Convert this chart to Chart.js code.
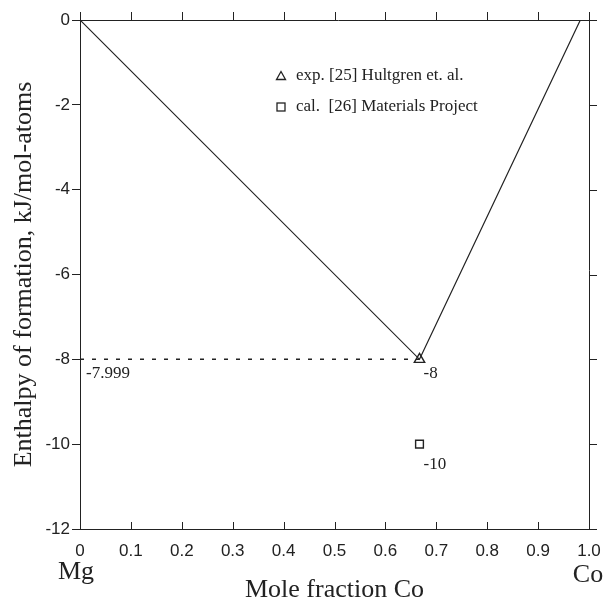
<!DOCTYPE html>
<html>
<head>
<meta charset="utf-8">
<script src="https://cdn.jsdelivr.net/npm/chart.js@4"></script>
<style>
  html, body { margin: 0; padding: 0; background: #fff; }
  #wrap { width: 610px; height: 604px; }
</style>
</head>
<body>
<div id="wrap"><canvas id="enthalpyChart" width="610" height="604"></canvas></div>
<script>
// ---- data ----
const hullX = [0, 0.667, 0.983];
const hullY = [0, -8, 0];
const expX = [0.667];
const expY = [-8];
const calX = [0.667];
const calY = [-10];
const refLineX = [0, 0.667];
const refLineY = [-7.999, -7.999];
const xTicks = [0, 0.1, 0.2, 0.3, 0.4, 0.5, 0.6, 0.7, 0.8, 0.9, 1.0];
const yTicks = [0, -2, -4, -6, -8, -10, -12];
const legendLabels = ['exp. [25] Hultgren et. al.', 'cal.  [26] Materials Project'];
const valueLabels = ['-7.999', '-8', '-10'];
const endLabels = ['Mg', 'Co'];

const SERIF = '"Liberation Serif", "DejaVu Serif", serif';
const SANS = '"Liberation Sans", Arial, sans-serif';
const INK = '#222';

function pts(xs, ys) {
    return xs.map((x, i) => ({ x: x, y: ys[i] }));
}

// ticks on top / right frame and inward ticks on the bottom axis
const frameTicks = {
    id: 'frameTicks',
    afterDraw(chart) {
        const { ctx, chartArea: a, scales: { x, y } } = chart;
        ctx.save();
        ctx.strokeStyle = INK;
        ctx.lineWidth = 1;
        ctx.beginPath();
        // top and right frame lines
        ctx.moveTo(a.left, a.top + 0.5); ctx.lineTo(a.right + 8, a.top + 0.5);
        ctx.moveTo(a.right + 0.5, a.top - 8); ctx.lineTo(a.right + 0.5, a.bottom);
        ctx.moveTo(a.right, a.bottom + 0.5); ctx.lineTo(a.right + 8, a.bottom + 0.5);
        xTicks.forEach(v => {
            const px = Math.round(x.getPixelForValue(v)) + 0.5;
            ctx.moveTo(px, a.top); ctx.lineTo(px, a.top - 8);
            ctx.moveTo(px, a.bottom); ctx.lineTo(px, a.bottom - 7);
        });
        yTicks.forEach(v => {
            const py = Math.round(y.getPixelForValue(v)) + 0.5;
            ctx.moveTo(a.right, py); ctx.lineTo(a.right + 8, py);
        });
        ctx.stroke();
        ctx.restore();
    }
};

// text labels: point values, legend, element names
const textLabels = {
    id: 'textLabels',
    afterDraw(chart) {
        const { ctx, scales: { x, y } } = chart;
        ctx.save();
        ctx.fillStyle = INK;
        ctx.textBaseline = 'middle';
        ctx.textAlign = 'left';
        ctx.font = '17px ' + SERIF;
        ctx.fillText(valueLabels[0], x.getPixelForValue(0) + 6, y.getPixelForValue(refLineY[0]) + 14);
        ctx.fillText(valueLabels[1], x.getPixelForValue(expX[0]) + 4, y.getPixelForValue(expY[0]) + 14);
        ctx.fillText(valueLabels[2], x.getPixelForValue(calX[0]) + 4, y.getPixelForValue(calY[0]) + 20);

        // legend
        const lx = 281, rows = [76, 107];
        ctx.strokeStyle = INK;
        ctx.lineWidth = 1.3;
        ctx.beginPath();
        ctx.moveTo(lx - 4.5, rows[0] + 3.5);
        ctx.lineTo(lx + 4.5, rows[0] + 3.5);
        ctx.lineTo(lx, rows[0] - 4.5);
        ctx.closePath();
        ctx.stroke();
        ctx.strokeRect(lx - 4, rows[1] - 4, 8, 8);
        ctx.fillText(legendLabels[0], 296, rows[0]);
        ctx.fillText(legendLabels[1], 296, rows[1]);

        // Mg / Co under the axis ends
        ctx.font = '26px ' + SERIF;
        ctx.textAlign = 'center';
        ctx.textBaseline = 'alphabetic';
        ctx.fillText(endLabels[0], x.getPixelForValue(0) - 4, 579);
        ctx.fillText(endLabels[1], x.getPixelForValue(1) - 1, 582);
        ctx.restore();
    }
};

const ctx = document.getElementById('enthalpyChart');

new Chart(ctx, {
    type: 'scatter',
    data: {
        datasets: [
            {
                label: 'hull',
                data: pts(hullX, hullY),
                showLine: true,
                borderColor: INK,
                borderWidth: 1.2,
                pointRadius: 0,
                fill: false
            },
            {
                label: 'ref',
                data: pts(refLineX, refLineY),
                showLine: true,
                borderColor: INK,
                borderWidth: 1.4,
                borderDash: [4, 8],
                pointRadius: 0,
                fill: false
            },
            {
                label: legendLabels[0],
                data: pts(expX, expY),
                pointStyle: 'triangle',
                pointRadius: 6,
                pointBorderColor: INK,
                pointBackgroundColor: '#fff',
                pointBorderWidth: 1.4
            },
            {
                label: legendLabels[1],
                data: pts(calX, calY),
                pointStyle: 'rect',
                pointRadius: 5.5,
                pointBorderColor: INK,
                pointBackgroundColor: '#fff',
                pointBorderWidth: 1.4
            }
        ]
    },
    options: {
        responsive: false,
        animation: false,
        layout: {
            padding: { top: 20, right: 21, left: 0, bottom: 0 }
        },
        plugins: {
            legend: { display: false },
            tooltip: { enabled: false }
        },
        scales: {
            x: {
                type: 'linear',
                min: 0,
                max: 1,
                afterFit: scale => { scale.height = 75; },
                afterBuildTicks: scale => { scale.ticks = xTicks.map(v => ({ value: v })); },
                border: { display: true, color: INK, width: 1 },
                grid: { display: false },
                ticks: {
                    color: INK,
                    font: { family: SANS, size: 17 },
                    padding: 4,
                    maxRotation: 0,
                    autoSkip: false,
                    callback: v => (v === 0 ? '0' : v.toFixed(1))
                },
                title: {
                    display: true,
                    text: 'Mole fraction Co',
                    color: INK,
                    font: { family: SERIF, size: 26, lineHeight: 1 },
                    padding: { top: 0, bottom: 1 }
                }
            },
            y: {
                type: 'linear',
                min: -12,
                max: 0,
                afterFit: scale => { scale.width = 80; },
                afterBuildTicks: scale => { scale.ticks = yTicks.map(v => ({ value: v })); },
                border: { display: true, color: INK, width: 1 },
                grid: { drawOnChartArea: false, drawTicks: true, tickLength: 8, color: INK },
                ticks: {
                    color: INK,
                    font: { family: SANS, size: 17 },
                    padding: 2,
                    autoSkip: false
                },
                title: {
                    display: true,
                    text: 'Enthalpy of formation, kJ/mol-atoms',
                    color: INK,
                    font: { family: SERIF, size: 26, lineHeight: 1.2 },
                    padding: { top: 9, bottom: 0 }
                }
            }
        }
    },
    plugins: [frameTicks, textLabels]
});
</script>
</body>
</html>
